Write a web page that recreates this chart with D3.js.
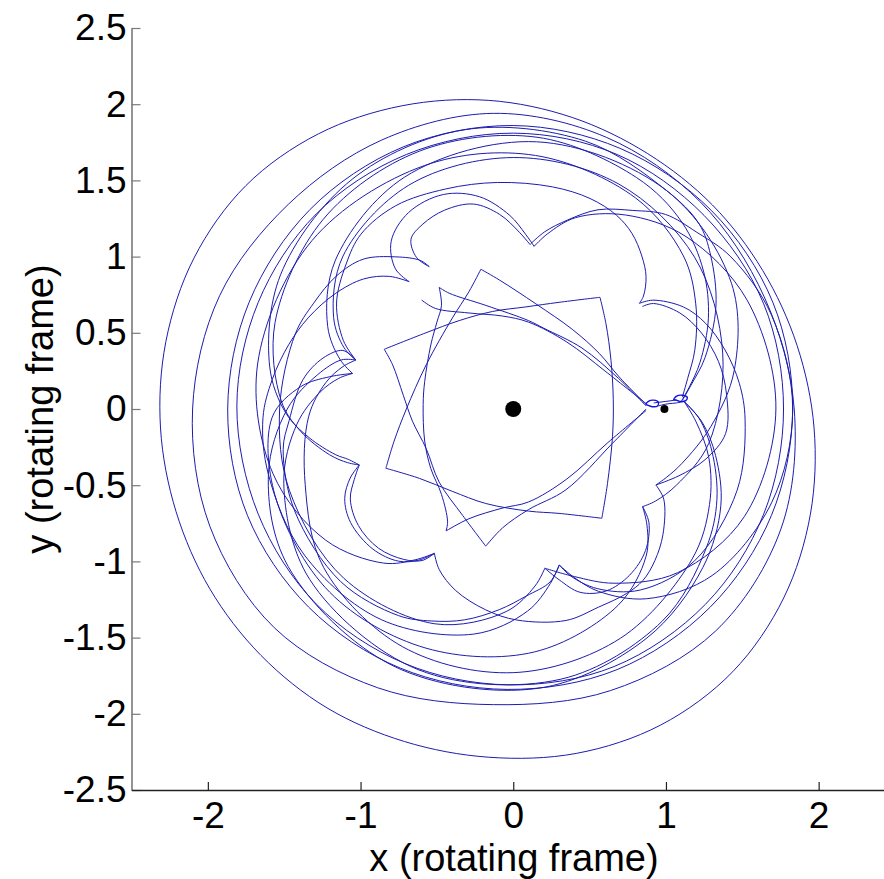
<!DOCTYPE html>
<html>
<head>
<meta charset="utf-8">
<script src="https://cdn.jsdelivr.net/npm/d3@7"></script>
<style>
body { margin: 0; background: #fff; }
svg { display: block; }
</style>
</head>
<body>
<svg width="884" height="879"></svg>
<script>
let xTicks = [-2, -1, 0, 1, 2];
let yTicks = [-2.5, -2, -1.5, -1, -0.5, 0, 0.5, 1, 1.5, 2, 2.5];

// primary and secondary body
let bodies = [[0, 0], [0.99, 0]];

// big outer loops, [x, y]
let ring1 = [[-2.31,-0.125],[-2.275,0.442],[-2.091,0.99],[-1.751,1.466],[-1.275,1.806],[-0.727,1.99],[-0.16,2.025],[0.386,1.913],[0.88,1.676],[1.304,1.339],[1.633,0.91],[1.859,0.416],[1.97,-0.125],[1.946,-0.69],[1.771,-1.24],[1.438,-1.723],[0.965,-2.074],[0.412,-2.26],[-0.16,-2.285],[-0.712,-2.182],[-1.22,-1.961],[-1.652,-1.617],[-1.987,-1.18],[-2.208,-0.674]];
let ring2 = [[-2.10,0],[-1.923,0.743],[-1.473,1.343],[-0.861,1.765],[-0.13,1.94],[0.609,1.783],[1.227,1.357],[1.644,0.735],[1.84,0],[1.755,-0.781],[1.326,-1.456],[0.636,-1.848],[-0.13,-1.94],[-0.888,-1.829],[-1.565,-1.435],[-1.987,-0.769]];
let ring3 = [[-1.87,0.0],[-1.73,0.70],[-1.33,1.31],[-0.72,1.72],[0.0,1.86],[0.70,1.71],[1.30,1.30],[1.70,0.70],[1.83,0.0],[1.69,-0.70],[1.29,-1.30],[0.68,-1.71],[-0.04,-1.84],[-0.74,-1.70],[-1.34,-1.30],[-1.74,-0.70]];
let ring4 = [[-1.81,0.02],[-1.67,0.70],[-1.29,1.28],[-0.70,1.67],[0.0,1.81],[0.68,1.67],[1.25,1.27],[1.64,0.69],[1.77,0.0],[1.64,-0.69],[1.26,-1.28],[0.66,-1.69],[-0.03,-1.81],[-0.71,-1.67],[-1.29,-1.28],[-1.67,-0.69]];

// lobes between cusps of the flower, [angle in degrees, radius]
let lobeA = [[84.2,1.085],[80,1.18],[74,1.29],[67,1.42],[59,1.52],[52,1.62],[44,1.67],[35,1.74],[20,1.80],[0,1.83],[-20,1.80],[-40,1.70],[-55,1.52],[-65,1.32],[-70,1.18],[-73.6,1.067]];
let lobeB = [[82.7,1.076],[79,1.17],[72,1.32],[60,1.47],[45,1.60],[25,1.69],[0,1.72],[-25,1.67],[-45,1.52],[-60,1.32],[-70,1.17],[-78.8,1.065]];
let lobeC = [[120.5,1.084],[122.5,1.18],[121,1.30],[116,1.35],[109,1.38],[101,1.37],[94,1.28],[88,1.16],[84.2,1.085]];
let lobeD = [[129.2,1.078],[130,1.20],[126,1.36],[118,1.46],[108,1.48],[99,1.41],[91,1.27],[86,1.15],[82.7,1.076]];
let lobeE = [[162.7,1.08],[158,1.2],[149,1.35],[139,1.45],[131,1.52],[120,1.54],[107,1.51],[94,1.49],[80,1.48],[70,1.47],[62,1.44],[56,1.39],[50,1.31],[45,1.23],[41,1.13],[40,1.078]];
let lobeF = [[-73.6,1.067],[-78,1.17],[-86,1.33],[-100,1.50],[-122,1.63],[-145,1.67],[-165,1.66],[-178,1.64],[173,1.59],[164,1.53],[156,1.47],[147,1.39],[139,1.30],[133,1.19],[129.2,1.078]];
let lobeG = [[-78.8,1.065],[-83,1.17],[-92,1.33],[-110,1.50],[-135,1.57],[-160,1.56],[180,1.53],[161,1.51],[152,1.48],[143,1.45],[135,1.39],[127.6,1.26],[122,1.15],[120.5,1.084]];
let lobeH = [[40,1.078],[38,1.16],[31,1.30],[24,1.38],[15.6,1.44],[6.5,1.49],[-2.7,1.52],[-20,1.56],[-40,1.55],[-55,1.45],[-65,1.30],[-71,1.16],[-73.6,1.067]];
let lobeI = [[38.5,1.08],[37,1.15],[30,1.26],[22,1.33],[13,1.38],[4,1.40],[-6.6,1.40],[-14.8,1.30],[-22,1.17],[-28.1,1.059]];
let lobeJ = [[-28.1,1.059],[-31,1.15],[-40,1.28],[-47,1.36],[-53,1.41],[-58.6,1.42],[-66.7,1.415],[-76,1.43],[-89,1.385],[-97.8,1.33],[-107.5,1.25],[-114.7,1.16],[-118.6,1.079]];
let lobeK = [[-37.1,1.062],[-40,1.16],[-47,1.27],[-55,1.33],[-63,1.34],[-70,1.28],[-75,1.16],[-78.8,1.065]];
let lobeL = [[-73.6,1.067],[-78,1.16],[-86,1.23],[-94,1.32],[-103,1.42],[-111,1.49],[-119,1.55],[-135,1.60],[-155,1.58],[-170,1.53],[-177,1.47],[-188,1.39],[-195,1.29],[-199,1.18],[-197.3,1.08]];
let lobeM = [[-118.6,1.079],[-122,1.17],[-127,1.25],[-135,1.30],[-145,1.30],[-152,1.25],[-157,1.16],[-160,1.073]];
let lobeM2 = [[-118.6,1.079],[-121,1.16],[-126,1.22],[-134,1.27],[-143,1.27],[-151,1.22],[-156,1.14],[-160,1.073]];
let lobeN = [[-160,1.073],[-163,1.13],[-165.5,1.20],[-172,1.35],[-179,1.49],[170,1.62],[150,1.76],[125,1.84],[100,1.86],[75,1.82],[55,1.75],[45,1.72],[38,1.64],[27,1.49],[15,1.30],[8,1.18],[3,1.11]];
let lobeO = [[2.5,1.12],[-3,1.22],[-12,1.33],[-24,1.46],[-36,1.56],[-55,1.70],[-80,1.80],[-110,1.82],[-140,1.74],[-162,1.58],[-176,1.42],[-185,1.27],[-190,1.16],[-192.5,1.078]];
let lobeP = [[167.5,1.078],[164,1.18],[156,1.33],[140,1.52],[115,1.68],[85,1.76],[55,1.75],[30,1.65],[10,1.47],[-5,1.30],[-18,1.16],[-24,1.10],[-28.1,1.059]];
let lobeQ = [[241.4,1.079],[237,1.18],[230,1.32],[215,1.50],[195,1.63],[170,1.70],[140,1.72],[110,1.70],[85,1.67],[60,1.60],[42,1.50],[30,1.38],[18,1.25],[10,1.16],[4,1.11]];
let lobeR = [[2.5,1.12],[-4,1.20],[-14,1.32],[-26,1.43],[-40,1.53],[-65,1.66],[-90,1.73],[-115,1.72],[-140,1.62],[-160,1.45],[-178,1.34],[-188,1.24],[-194,1.15],[-197.3,1.08]];
let lobeS = [[-37.1,1.062],[-41,1.16],[-48,1.30],[-62,1.46],[-85,1.60],[-110,1.67],[-135,1.70],[-160,1.66],[-178,1.58],[-186,1.40],[-190,1.22],[-192.5,1.078]];
let lobeT = [[162.7,1.08],[160,1.18],[153,1.32],[138,1.50],[115,1.62],[90,1.65],[65,1.63],[40,1.55],[15,1.42],[-10,1.30],[-25,1.18],[-33,1.11],[-37.1,1.062]];
let lobeU = [[-160,1.073],[-162,1.14],[-166,1.24],[-174,1.40],[178,1.52],[160,1.66],[135,1.76],[110,1.80],[85,1.79],[62,1.72],[48,1.65],[36,1.54],[25,1.41],[14,1.26],[7,1.16],[2.5,1.10]];
let lobeV = [[2.5,1.12],[-4,1.24],[-13,1.36],[-25,1.50],[-40,1.62],[-60,1.74],[-85,1.84],[-115,1.86],[-145,1.80],[-165,1.66],[-180,1.48],[-190,1.30],[-196,1.17],[-197.3,1.08]];

// inside the secondary's orbit: cusped square and teardrop, [x, y]
let starNeckTop = [[0.87,0.03],[0.694,0.21],[0.563,0.365],[0.39,0.52],[0.148,0.69],[-0.09,0.846],[-0.212,0.917]];
let starTopLeft = [[-0.212,0.917],[-0.29,0.77],[-0.40,0.595],[-0.57,0.29],[-0.70,0.0],[-0.78,-0.21],[-0.834,-0.389]];
let starBottom = [[-0.834,-0.389],[-0.615,-0.455],[-0.40,-0.54],[-0.18,-0.62],[0.10,-0.67],[0.30,-0.685],[0.58,-0.717]];
let starRight = [[0.58,-0.717],[0.617,-0.49],[0.65,-0.18],[0.655,0.06],[0.64,0.32],[0.607,0.56],[0.568,0.733]];
let starTop = [[0.568,0.733],[0.30,0.70],[0.083,0.67],[-0.135,0.64],[-0.354,0.58],[-0.572,0.50],[-0.845,0.392]];
let starLeft = [[-0.845,0.392],[-0.79,0.29],[-0.72,0.09],[-0.66,-0.08],[-0.57,-0.26],[-0.485,-0.48],[-0.33,-0.70],[-0.18,-0.90]];
let starNeckBottom = [[-0.18,-0.90],[-0.07,-0.78],[0.10,-0.66],[0.345,-0.53],[0.65,-0.225],[0.87,0.0]];
let tearTop = [[0.87,0.02],[0.69,0.20],[0.45,0.40],[0.20,0.53],[0.10,0.58],[-0.18,0.68],[-0.42,0.76],[-0.485,0.798]];
let tearLeft = [[-0.485,0.798],[-0.47,0.68],[-0.50,0.57],[-0.54,0.42],[-0.58,0.18],[-0.59,0.03],[-0.58,-0.21],[-0.54,-0.39],[-0.47,-0.56],[-0.43,-0.74],[-0.44,-0.80]];
let tearBottom = [[-0.44,-0.80],[-0.29,-0.72],[-0.07,-0.65],[0.10,-0.61],[0.35,-0.46],[0.62,-0.22],[0.87,-0.01]];
let startArc = [[-0.60,0.715],[-0.51,0.66],[-0.29,0.63],[-0.07,0.61],[0.10,0.57],[0.35,0.44],[0.60,0.25],[0.87,0.035]];

// small loops near the neck around the secondary
let neckLeft = [[0.87,0.03],[0.885,0.05],[0.92,0.058],[0.95,0.045],[0.945,0.02],[0.91,0.015],[0.88,0.025]];
let neckBridge = [[0.92,0.04],[0.96,0.045],[1.0,0.05],[1.04,0.055],[1.07,0.06]];
let neckRight = [[1.05,0.06],[1.07,0.085],[1.11,0.09],[1.14,0.075],[1.13,0.055],[1.09,0.05],[1.06,0.06]];
let neckUnder = [[0.95,0.02],[0.98,0.028],[1.02,0.035],[1.07,0.04],[1.12,0.05]];

let rings = [ring1, ring2, ring3, ring4];
let lobes = [lobeA, lobeB, lobeC, lobeD, lobeE, lobeF, lobeG, lobeH, lobeI, lobeJ, lobeK, lobeL, lobeM, lobeM2, lobeN, lobeO, lobeP, lobeQ, lobeR, lobeS, lobeT, lobeU, lobeV];
let inner = [starNeckTop, starTopLeft, starBottom, starRight, starTop, starLeft, starNeckBottom, tearTop, tearLeft, tearBottom, startArc, neckBridge, neckUnder];
let neckLoops = [neckLeft, neckRight];

let font = '"Liberation Sans", Arial, Helvetica, sans-serif';
let blue = '#1c1cb0';

let svg = d3.select('svg');

let x = d3.scaleLinear().domain([-2.5, 2.5]).range([131.5, 895]);
let y = d3.scaleLinear().domain([-2.5, 2.5]).range([790, 28]);

function polar(p) {
    let a = p[0] * Math.PI / 180;
    return [p[1] * Math.cos(a), p[1] * Math.sin(a)];
}

let line = d3.line().x(d => x(d[0])).y(d => y(d[1])).curve(d3.curveCatmullRom.alpha(0.5));
let loop = d3.line().x(d => x(d[0])).y(d => y(d[1])).curve(d3.curveCatmullRomClosed.alpha(0.5));

let plot = svg.append('g').attr('fill', 'none').attr('stroke', blue).attr('stroke-width', 1);

plot.selectAll('.ring').data(rings).enter().append('path').attr('class', 'ring').attr('d', d => loop(d));
plot.selectAll('.lobe').data(lobes).enter().append('path').attr('class', 'lobe').attr('d', d => line(d.map(polar)));
plot.selectAll('.inner').data(inner).enter().append('path').attr('class', 'inner').attr('d', d => line(d));
plot.selectAll('.neck').data(neckLoops).enter().append('path').attr('class', 'neck').attr('d', d => loop(d)).attr('stroke-width', 1.4).attr('stroke', '#1010e0');

svg.selectAll('.body').data(bodies).enter().append('circle').attr('class', 'body')
    .attr('cx', d => x(d[0])).attr('cy', d => y(d[1]))
    .attr('r', (d, i) => i == 0 ? 8 : 4).attr('fill', '#000');

// axes, ticks pointing inward like matlab
let yAxis = svg.append('g').attr('transform', 'translate(131.5,0)')
    .call(d3.axisLeft(y).tickValues(yTicks).tickFormat(d => String(d)).tickSizeInner(-9).tickSizeOuter(0).tickPadding(5));
yAxis.select('.domain').attr('stroke', '#7a7a7a').attr('stroke-width', 1.6);
yAxis.selectAll('.tick line').attr('stroke', '#7a7a7a').attr('stroke-width', 1.2);
yAxis.selectAll('text').attr('font-size', 37).attr('font-family', font).attr('fill', '#000');

let xAxis = svg.append('g').attr('transform', 'translate(0,790)')
    .call(d3.axisBottom(x).tickValues(xTicks).tickFormat(d => String(d)).tickSizeInner(-8).tickSizeOuter(0).tickPadding(12));
xAxis.select('.domain').attr('stroke', '#222').attr('stroke-width', 1.3);
xAxis.selectAll('.tick line').attr('stroke', '#222').attr('stroke-width', 1.2);
xAxis.selectAll('text').attr('font-size', 37).attr('font-family', font).attr('fill', '#000');

svg.append('text').attr('x', 514).attr('y', 871).attr('text-anchor', 'middle')
    .attr('font-size', 38).attr('font-family', font).text('x (rotating frame)');
svg.append('text').attr('transform', 'translate(53,409) rotate(-90)').attr('text-anchor', 'middle')
    .attr('font-size', 38).attr('font-family', font).text('y (rotating frame)');
</script>
</body>
</html>
